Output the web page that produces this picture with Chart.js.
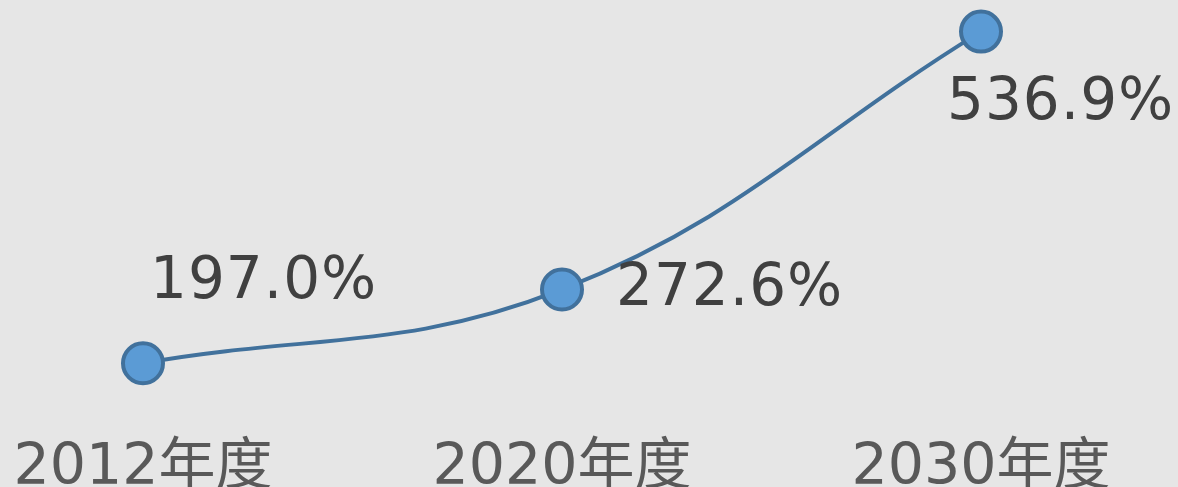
<!DOCTYPE html>
<html>
<head>
<meta charset="utf-8">
<script src="https://cdn.jsdelivr.net/npm/chart.js@4/dist/chart.umd.min.js"></script>
<style>
  html, body { margin: 0; padding: 0; background: #e6e6e6; overflow: hidden; }
  #wrap { width: 1178px; height: 506px; }
</style>
</head>
<body>
<div id="wrap"><canvas id="chart"></canvas></div>
<script>
// data
const years = ['2012年度', '2020年度', '2030年度'];
const ratios = [197.0, 272.6, 536.9];

// label placement relative to each point (left x, baseline y)
const labelOffsets = [[7, -65], [54, 16], [-34, 87]];

const valueLabels = {
    id: 'valueLabels',
    afterDatasetsDraw(chart) {
        const ctx = chart.ctx;
        const meta = chart.getDatasetMeta(0);
        ctx.save();
        ctx.font = '58px "DejaVu Sans"';
        ctx.letterSpacing = '1px';
        ctx.fillStyle = '#404040';
        ctx.textAlign = 'left';
        ctx.textBaseline = 'alphabetic';
        meta.data.forEach((pt, i) => {
            const [dx, dy] = labelOffsets[i];
            ctx.fillText(ratios[i].toFixed(1) + '%', pt.x + dx, pt.y + dy);
        });
        ctx.restore();
    }
};

new Chart(document.getElementById('chart'), {
    type: 'line',
    data: {
        labels: years,
        datasets: [{
            data: ratios,
            borderColor: '#41719c',
            borderWidth: 4,
            tension: 0.4,
            pointRadius: 20,
            pointBorderWidth: 4,
            pointBackgroundColor: '#5b9bd5',
            pointBorderColor: '#41719c',
            clip: false,
        }]
    },
    options: {
        responsive: true,
        maintainAspectRatio: false,
        animation: false,
        layout: { padding: { left: 143, right: 197, top: 0, bottom: 0 } },
        plugins: { legend: { display: false }, tooltip: { enabled: false } },
        scales: {
            x: {
                offset: false,
                grid: { display: false },
                border: { display: false },
                ticks: {
                    color: '#595959',
                    padding: 3,
                    maxRotation: 0,
                    font: { family: '"DejaVu Sans", "Noto Sans CJK SC"', size: 57 }
                }
            },
            y: {
                display: false,
                min: 135.1,
                max: 544.7
            }
        }
    },
    plugins: [valueLabels]
});
</script>
</body>
</html>
